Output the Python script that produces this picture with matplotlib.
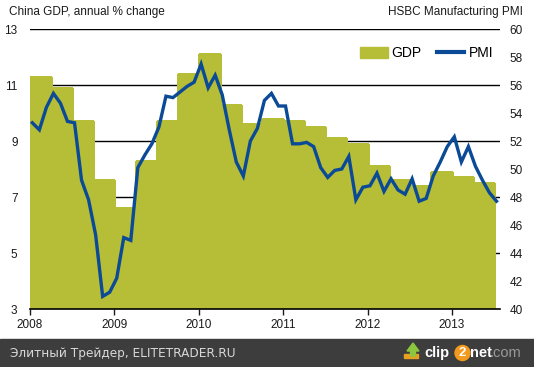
import matplotlib
matplotlib.use("Agg")
import matplotlib.pyplot as plt
import matplotlib.patches as mpatches
from matplotlib.lines import Line2D
import numpy as np
import pandas as pd

# ---- data ----
gdp_quarters = pd.date_range("2008-01-01", periods=22, freq="QS")
gdp_values = [11.3, 10.9, 9.7, 7.6,
              6.6, 8.3, 9.7, 11.4,
              12.1, 10.3, 9.6, 9.8,
              9.7, 9.5, 9.1, 8.9,
              8.1, 7.6, 7.4, 7.9,
              7.7, 7.5]

pmi_months = pd.date_range("2008-01-01", periods=67, freq="MS")
pmi_values = [53.3, 52.8, 54.4, 55.4, 54.7, 53.4, 53.3, 49.2, 47.8, 45.3, 40.9, 41.2,
              42.2, 45.1, 44.9, 50.1, 51.0, 51.8, 53.0, 55.2, 55.1, 55.5, 55.9, 56.2,
              57.5, 55.8, 56.7, 55.3, 52.8, 50.5, 49.5, 52.0, 52.9, 54.9, 55.4, 54.5,
              54.5, 51.8, 51.8, 51.9, 51.6, 50.1, 49.4, 49.9, 50.0, 50.9, 47.8, 48.7,
              48.8, 49.7, 48.4, 49.3, 48.5, 48.2, 49.3, 47.7, 47.9, 49.5, 50.5, 51.6,
              52.3, 50.5, 51.6, 50.2, 49.2, 48.3, 47.7]

years = [2008, 2009, 2010, 2011, 2012, 2013]
left_ticks = [3, 5, 7, 9, 11, 13]
right_ticks = [40, 42, 44, 46, 48, 50, 52, 54, 56, 58, 60]

def month_year(d):
    return d.year + (d.month - 1) / 12

gdp_x = np.array([month_year(d) for d in gdp_quarters])
pmi_x = np.array([month_year(d) for d in pmi_months]) + 0.33 / 12

BAR = "#b6bd36"
LINE = "#0b4a96"
TXT = "#1a1a1a"

plt.rcParams["font.family"] = ["Liberation Sans", "DejaVu Sans"]

fig = plt.figure(figsize=(5.34, 3.67), dpi=100)
ax = fig.add_axes([30 / 534, 1 - 309 / 367, 470 / 534, 280 / 367])
ax2 = ax.twinx()

ax.set_zorder(1)
ax2.set_zorder(2)
ax2.patch.set_visible(False)

ax.bar(gdp_x, gdp_values, width=0.25, align="edge", color=BAR, zorder=3,
       linewidth=1.0, edgecolor=BAR, antialiased=False)
for t in left_ticks[1:]:
    ax.axhline(t, color="black", lw=1.0, zorder=2)

ax.set_xlim(2008, 2008 + 470 / 84.4)
ax.set_ylim(3, 13)
ax.set_yticks(left_ticks)
ax.set_xticks(years)
ax.set_xticklabels([str(y) for y in years])
ax.tick_params(axis="y", length=0, pad=9, labelsize=8.5, colors=TXT)
ax.tick_params(axis="x", length=4, width=1, direction="out", pad=3, labelsize=8.5, colors=TXT)
for s in ["top", "left", "right"]:
    ax.spines[s].set_visible(False)
ax.spines["bottom"].set_linewidth(1.2)
ax.spines["bottom"].set_zorder(5)

ax2.plot(pmi_x, pmi_values, color=LINE, lw=2.4, zorder=4, solid_joinstyle="miter")
ax2.set_ylim(40, 60)
ax2.set_yticks(right_ticks)
ax2.tick_params(axis="y", length=0, pad=7, labelsize=8.5, colors=TXT)
for s in ["top", "left", "right", "bottom"]:
    ax2.spines[s].set_visible(False)

# titles
fig.text(9 / 534, 1 - 12 / 367, "China GDP, annual % change", fontsize=8.5, color=TXT,
         ha="left", va="center")
fig.text(523 / 534, 1 - 12 / 367, "HSBC Manufacturing PMI", fontsize=8.5, color=TXT,
         ha="right", va="center")

# legend
handles = [mpatches.Patch(color=BAR, label="GDP"),
           Line2D([0], [0], color=LINE, lw=3, label="PMI")]
leg = ax2.legend(handles=handles, loc="upper right",
                 bbox_to_anchor=((493 - 30) / 470, 1 - 17 / 280),
                 ncol=2, frameon=False, fontsize=10, handlelength=1.95, handleheight=0.85,
                 columnspacing=1.1, handletextpad=0.3, borderaxespad=0, borderpad=0)

# footer band
fig.patches.append(mpatches.Rectangle((0, 0), 1, 28 / 367, transform=fig.transFigure,
                                      color="#3d3d3d", zorder=0))
fig.text(10 / 534, 14 / 367, "Элитный Трейдер, ELITETRADER.RU", fontsize=8.7,
         family=["DejaVu Sans"], color="#d8d8d8", ha="left", va="center")
fig.text(424 / 534, 14 / 367, "clip", fontsize=10.5, fontweight="bold", color="white",
         ha="left", va="center")
fig.patches.append(mpatches.Ellipse((462.5 / 534, 14 / 367), 15 / 534, 15 / 367,
                                    transform=fig.transFigure, color="#f39a1e", zorder=1))
fig.text(462.5 / 534, 14 / 367, "2", fontsize=9.5, fontweight="bold", color="white",
         ha="center", va="center")
fig.text(470 / 534, 14 / 367, "net", fontsize=10.5, fontweight="bold", color="white",
         ha="left", va="center")
fig.text(490 / 534, 14 / 367, ".com", fontsize=10.5, color="#9a9a9a",
         ha="left", va="center")
fig.patches.append(mpatches.Polygon([[404 / 534, 9 / 367], [418 / 534, 9 / 367],
                                     [418 / 534, 13 / 367], [404 / 534, 13 / 367]],
                                    closed=True, transform=fig.transFigure, color="#e8a020"))
fig.patches.append(mpatches.Polygon([[407 / 534, 16 / 367], [413 / 534, 24 / 367],
                                     [419 / 534, 16 / 367], [415.5 / 534, 16 / 367],
                                     [415.5 / 534, 11 / 367], [410.5 / 534, 11 / 367],
                                     [410.5 / 534, 16 / 367]],
                                    closed=True, transform=fig.transFigure, color="#8cc63f"))

fig.savefig("out.png", dpi=100)
